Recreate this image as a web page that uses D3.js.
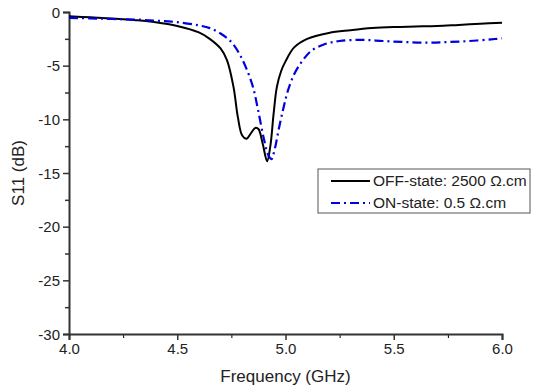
<!DOCTYPE html>
<html>
<head>
<meta charset="utf-8">
<script src="https://cdn.jsdelivr.net/npm/d3@7"></script>
<style>
  body { margin: 0; background: #fff; }
  text { font-family: "Liberation Sans", Arial, sans-serif; fill: #222; }
</style>
</head>
<body>
<div id="chart"></div>
<script>
// frequency (GHz) and S11 (dB)
const offFreq = [4.0, 4.1, 4.2, 4.3, 4.4, 4.5, 4.6, 4.65, 4.7, 4.73, 4.76, 4.78, 4.80, 4.82, 4.84, 4.86, 4.875, 4.895, 4.915, 4.93, 4.945, 4.96, 4.98, 5.0, 5.04, 5.1, 5.2, 5.3, 5.4, 5.5, 5.6, 5.7, 5.8, 5.9, 6.0];
const offS11 = [-0.4, -0.5, -0.6, -0.75, -0.95, -1.3, -1.9, -2.5, -3.4, -4.5, -7.0, -9.8, -11.5, -11.8, -11.3, -10.8, -10.9, -12.3, -13.9, -12.5, -9.5, -7.0, -5.5, -4.6, -3.3, -2.5, -1.95, -1.7, -1.5, -1.4, -1.35, -1.3, -1.2, -1.1, -1.0];

const onFreq = [4.0, 4.1, 4.2, 4.3, 4.4, 4.5, 4.6, 4.65, 4.7, 4.75, 4.79, 4.82, 4.85, 4.875, 4.9, 4.92, 4.935, 4.95, 4.97, 4.99, 5.01, 5.04, 5.08, 5.12, 5.18, 5.25, 5.35, 5.45, 5.55, 5.65, 5.75, 5.85, 5.95, 6.0];
const onS11 = [-0.55, -0.6, -0.65, -0.7, -0.8, -0.95, -1.25, -1.5, -2.0, -2.8, -4.0, -5.3, -7.0, -9.3, -11.8, -13.3, -13.7, -12.8, -10.8, -9.0, -7.4, -5.8, -4.5, -3.6, -3.0, -2.7, -2.6, -2.7, -2.8, -2.85, -2.8, -2.7, -2.55, -2.45];

const xTicks = [4.0, 4.5, 5.0, 5.5, 6.0];
const yTicks = [0, -5, -10, -15, -20, -25, -30];
const legendLabels = ["OFF-state: 2500 \u03A9.cm", "ON-state: 0.5 \u03A9.cm"];

const width = 550, height = 392;
const margin = { top: 12, right: 48, bottom: 58, left: 69 };

const svg = d3.select("#chart").append("svg")
  .attr("width", width)
  .attr("height", height);

const x = d3.scaleLinear().domain([4, 6]).range([margin.left, width - margin.right]);
const y = d3.scaleLinear().domain([-30, 0]).range([height - margin.bottom, margin.top]);

// minor ticks
svg.append("g")
  .attr("transform", `translate(0,${height - margin.bottom})`)
  .call(d3.axisBottom(x).tickValues(d3.range(4.25, 6, 0.5)).tickSize(4).tickFormat(""))
  .call(g => g.select(".domain").remove());
svg.append("g")
  .attr("transform", `translate(${margin.left},0)`)
  .call(d3.axisLeft(y).tickValues(d3.range(-27.5, 0, 5)).tickSize(4).tickFormat(""))
  .call(g => g.selectAll("line").attr("stroke", "#333").attr("stroke-width", 1.5))
  .call(g => g.select(".domain").remove());

const xAxis = svg.append("g")
  .attr("transform", `translate(0,${height - margin.bottom})`)
  .call(d3.axisBottom(x).tickValues(xTicks).tickSize(6).tickPadding(3).tickFormat(d3.format(".1f")));
const yAxis = svg.append("g")
  .attr("transform", `translate(${margin.left},0)`)
  .call(d3.axisLeft(y).tickValues(yTicks).tickSize(6).tickPadding(3).tickFormat(d => d));

[xAxis, yAxis].forEach(a => {
  a.selectAll("path, line").attr("stroke", "#333").attr("stroke-width", 1.5);
  a.selectAll("text").attr("font-size", 15).style("fill", "#222");
  a.select(".domain").attr("stroke-width", 2);
});
yAxis.selectAll(".tick text").attr("dy", "0.35em");

svg.append("text")
  .attr("x", (margin.left + width - margin.right) / 2)
  .attr("y", 382)
  .attr("text-anchor", "middle")
  .attr("font-size", 17)
  .text("Frequency (GHz)");

svg.append("text")
  .attr("transform", `translate(24,${(margin.top + height - margin.bottom) / 2}) rotate(-90)`)
  .attr("text-anchor", "middle")
  .attr("font-size", 17)
  .text("S11 (dB)");

const line = d3.line()
  .x(d => x(d[0]))
  .y(d => y(d[1]))
  .curve(d3.curveCatmullRom.alpha(0.5));

svg.append("path")
  .datum(d3.zip(offFreq, offS11))
  .attr("fill", "none")
  .attr("stroke", "#000")
  .attr("stroke-width", 2)
  .attr("d", line);

svg.append("path")
  .datum(d3.zip(onFreq, onS11))
  .attr("fill", "none")
  .attr("stroke", "#0000e0")
  .attr("stroke-width", 2.2)
  .attr("stroke-dasharray", "9,4,2,4")
  .attr("d", line);

// legend
const legend = svg.append("g").attr("transform", "translate(318,169)");
legend.append("rect")
  .attr("width", 212).attr("height", 44)
  .attr("fill", "#fff")
  .attr("stroke", "#555").attr("stroke-width", 1);

const styles = [
  { stroke: "#000", dash: null, w: 2 },
  { stroke: "#0000e0", dash: "9,4,2,4", w: 2.2 }
];
legendLabels.forEach((lab, i) => {
  const yy = 12 + i * 22;
  legend.append("line")
    .attr("x1", 13).attr("x2", 52).attr("y1", yy).attr("y2", yy)
    .attr("stroke", styles[i].stroke)
    .attr("stroke-width", styles[i].w)
    .attr("stroke-dasharray", styles[i].dash);
  legend.append("text")
    .attr("x", 55).attr("y", yy).attr("dy", "0.35em")
    .attr("font-size", 15.5)
    .text(lab);
});
</script>
</body>
</html>
